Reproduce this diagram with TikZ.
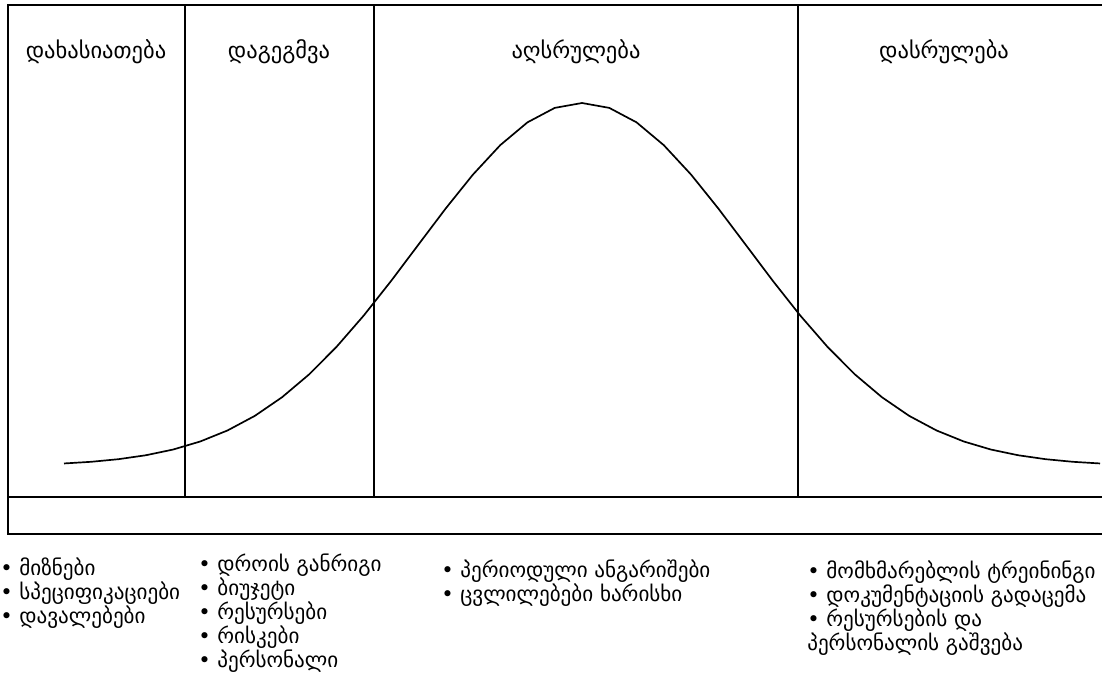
\documentclass[tikz,border=0pt]{standalone}
\usepackage{fontspec}
\setmainfont{DejaVu Sans}
\usetikzlibrary{positioning}
\tikzset{frame/.style={draw=black,line width=1.2pt},
         bell/.style={draw=black,line width=1.2pt},
         phase/.style={font=\fontsize{16}{19}\selectfont,inner sep=0pt},
         tasks/.style={font=\fontsize{15}{17}\selectfont,align=left,anchor=base west,inner sep=0pt}}
\begin{document}
\begin{tikzpicture}[x=0.025cm,y=-0.025cm]
  \useasboundingbox (0,0) rectangle (1102,682);
  \draw[frame] (1102,5) -| (8,534) -- (1102,534);
  \draw[frame] (8,497) -- (1102,497);
  \foreach \xx in {185,374,798}
    \draw[frame] (\xx,5) -- (\xx,497);
  \draw[bell,domain=64:1100,samples=39] plot (\x,{466-363*exp(-((\x-582)/232.55)^2)});
  \node[phase] (init) at (96,52) {დახასიათება};
  \node[phase] (plan) at (279,52) {დაგეგმვა};
  \node[phase] (exec) at (576,52) {აღსრულება};
  \node[phase] (close) at (944,52) {დასრულება};
  \node[tasks] (initlist) at (0,623) {• მიზნები\\• სპეციფიკაციები\\• დავალებები};
  \node[tasks] (planlist) at (198,667) {• დროის განრიგი\\• ბიუჯეტი\\• რესურსები\\• რისკები\\• პერსონალი};
  \node[tasks] (execlist) at (441,601) {• პერიოდული ანგარიშები\\• ცვლილებები ხარისხი};
  \node[tasks] (closelist) at (807,650) {• მომხმარებლის ტრეინინგი\\• დოკუმენტაციის გადაცემა\\• რესურსების და\\პერსონალის გაშვება};
\end{tikzpicture}
\end{document}
